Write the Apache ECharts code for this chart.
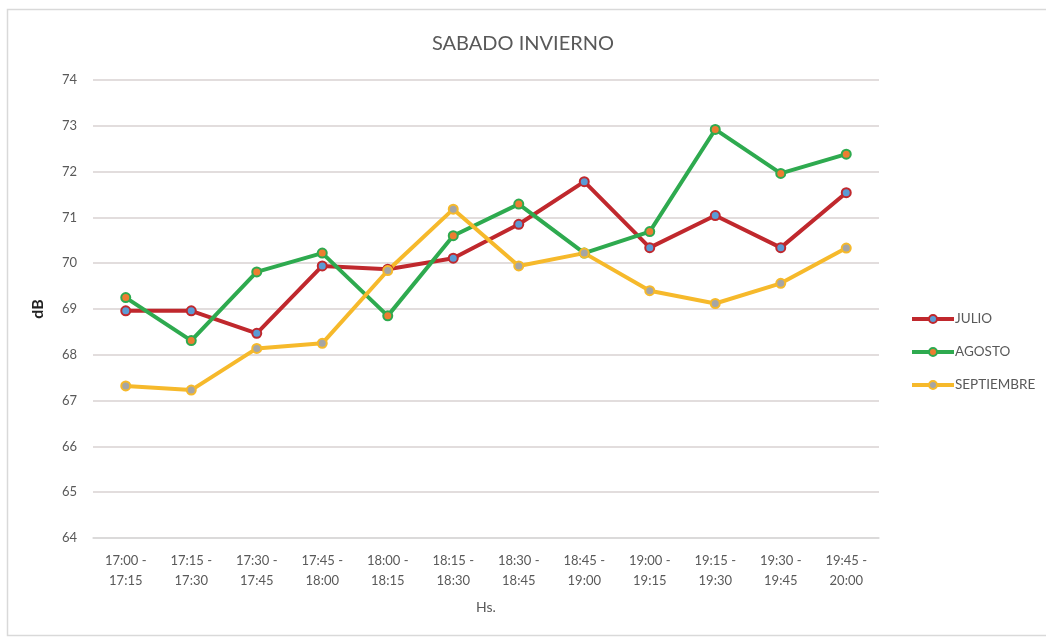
<!DOCTYPE html>
<html><head><meta charset="utf-8">
<script src="https://cdn.jsdelivr.net/npm/echarts@6/dist/echarts.min.js"></script>
<style>html,body{margin:0;padding:0;background:#fff}#c{width:1046px;height:637px}</style>
</head><body><div id="c"></div>
<script>
const categories = ["17:00 -\n17:15","17:15 -\n17:30","17:30 -\n17:45","17:45 -\n18:00","18:00 -\n18:15","18:15 -\n18:30","18:30 -\n18:45","18:45 -\n19:00","19:00 -\n19:15","19:15 -\n19:30","19:30 -\n19:45","19:45 -\n20:00"];
const julio = [68.96,68.96,68.47,69.94,69.87,70.11,70.85,71.78,70.34,71.04,70.34,71.54];
const agosto = [69.25,68.31,69.81,70.22,68.85,70.6,71.29,70.22,70.69,72.92,71.96,72.38];
const septiembre = [67.32,67.23,68.14,68.25,69.84,71.18,69.94,70.22,69.40,69.12,69.56,70.33];
const seriesNames = ["JULIO","AGOSTO","SEPTIEMBRE"];

const font = "Lato, 'Open Sans', sans-serif";
const chart = echarts.init(document.getElementById('c'), null, {renderer:'canvas'});
function mk(name, data, lineColor, fillColor){
  return {name, type:'line', data, symbol:'circle', symbolSize:9,
    lineStyle:{color:lineColor, width:4},
    itemStyle:{color:fillColor, borderColor:lineColor, borderWidth:2},
    emphasis:{disabled:true}};
}
chart.setOption({
  animation:false,
  backgroundColor:'#fff',
  graphic:[{type:'rect', shape:{x:7.5,y:9.5,width:1100,height:626}, style:{fill:null, stroke:'#d9d9d9', lineWidth:1.5}, silent:true}],
  title:{text:'SABADO INVIERNO', left:'center', top:34, textStyle:{fontFamily:font, fontSize:20, fontWeight:'normal', color:'#595959'}, padding:0},
  legend:{orient:'vertical', left:905, top:307, itemGap:19, itemWidth:42, itemHeight:10,
    lineStyle:{width:4},
    textStyle:{fontFamily:font, fontSize:13.5, color:'#595959', padding:[0,0,0,-4]},
    data:seriesNames},
  grid:{left:93, right:167, top:80, bottom:99},
  xAxis:{type:'category', data:categories, boundaryGap:true,
    name:'Hs.', nameLocation:'middle', nameGap:62,
    nameTextStyle:{fontFamily:font, fontSize:14, color:'#595959'},
    axisLine:{lineStyle:{color:'#d9d9d9', width:1.5}}, axisTick:{show:false},
    axisLabel:{fontFamily:font, fontSize:13, color:'#595959', lineHeight:20, margin:13, interval:0}},
  yAxis:{type:'value', min:64, max:74, interval:1,
    name:'dB', nameLocation:'middle', nameGap:47, nameRotate:90,
    nameTextStyle:{fontFamily:font, fontSize:16, color:'#222', fontWeight:'bold'},
    axisLine:{show:false}, axisTick:{show:false},
    axisLabel:{fontFamily:font, fontSize:13, color:'#595959', margin:16},
    splitLine:{lineStyle:{color:'#d9d2d2', width:1.5}}},
  series:[
    mk('JULIO', julio, '#C0282D', '#5B9BD5'),
    mk('AGOSTO', agosto, '#2EAA4F', '#ED7D31'),
    mk('SEPTIEMBRE', septiembre, '#F6B92B', '#A5A5A5')
  ]
});
</script></body></html>
